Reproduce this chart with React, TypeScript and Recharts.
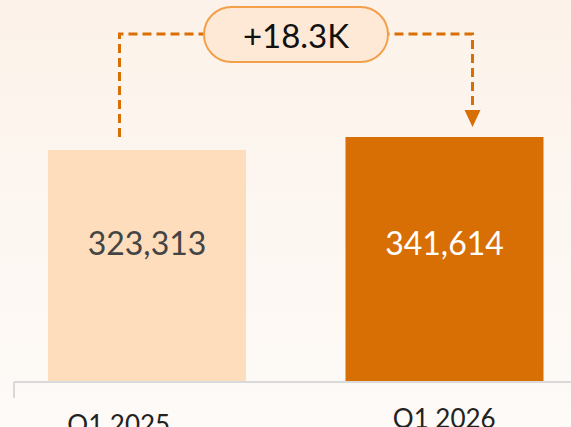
import { BarChart, Bar, XAxis, YAxis, Cell, LabelList, Rectangle } from 'recharts';

// quarters and subscriber totals
const quarters = ['Q1 2025', 'Q1 2026'];
const subscribers = [323313, 341614];
const barColors = ['#FDDDBB', '#D76F05'];
const valueColors = ['#444444', '#FFFFFF'];
const changeLabel = '+18.3K';

const data = quarters.map((quarter, i) => ({ quarter, value: subscribers[i] }));

const CHART_W = 571;
const CHART_H = 427;
const MARGIN = { top: 95, right: 0, left: 14, bottom: 0 };
const AXIS_H = 45;
const FONT = 'Lato, "Open Sans", sans-serif';
const ORANGE = '#D76F05';

// bar boxes are filled in by the shape callback, then read by the bridge label
const barBoxes: Record<number, { x: number; y: number; width: number; height: number }> = {};

const BarShape = (props: any) => {
  barBoxes[props.index] = { x: props.x, y: props.y, width: props.width, height: props.height };
  return <Rectangle {...props} />;
};

const ValueLabel = (props: any) => {
  const box = barBoxes[props.index];
  if (!box) return null;
  return (
    <text
      x={box.x + box.width / 2}
      y={box.y + box.height - 140}
      textAnchor="middle"
      dominantBaseline="central"
      fontFamily={FONT}
      fontSize={32}
      fill={valueColors[props.index]}
    >
      {subscribers[props.index].toLocaleString('en-US')}
    </text>
  );
};

const Bridge = (props: any) => {
  const a = barBoxes[0];
  const b = barBoxes[1];
  if (props.index !== 1 || !a || !b) return null;
  const level = 34;
  const ax = a.x + a.width / 2 - 27.5;
  const bx = b.x + b.width / 2 + 28;
  const tipY = b.y - 10;
  const midX = (ax + bx) / 2;
  const plotBottom = CHART_H - AXIS_H;
  return (
    <g>
      <path
        d={`M${ax},${a.y - 13} V${level} H${bx} V${tipY - 15}`}
        fill="none"
        stroke={ORANGE}
        strokeWidth={3}
        strokeDasharray="9 5"
      />
      <path d={`M${bx - 8},${tipY - 17} L${bx + 8},${tipY - 17} L${bx},${tipY} Z`} fill={ORANGE} />
      <rect x={midX - 92} y={level - 27} width={184} height={55} rx={27.5} fill="#FEE9D7" stroke="#F4A04A" strokeWidth={2} />
      <text x={midX} y={level + 1} textAnchor="middle" dominantBaseline="central" fontFamily={FONT} fontSize={33} fill="#111111">
        {changeLabel}
      </text>
      <line x1={MARGIN.left} x2={MARGIN.left} y1={plotBottom} y2={plotBottom + 16} stroke="#D9D9D9" strokeWidth={2} />
    </g>
  );
};

const QuarterTick = ({ x, y, payload, index }: any) => {
  const dx = index === 0 ? -28 : 0;
  const dy = index === 0 ? 44 : 38;
  return (
    <text x={x + dx} y={y + dy} textAnchor="middle" fontFamily={FONT} fontSize={26} fill="#222222">
      {payload.value}
    </text>
  );
};

export default function App() {
  return (
    <div
      style={{
        position: 'absolute',
        left: 0,
        top: 0,
        width: CHART_W,
        height: CHART_H,
        overflow: 'hidden',
        background: 'linear-gradient(180deg, #FCF2E9 0%, #FDF7F2 55%, #FDFAF7 100%)',
      }}
    >
      <BarChart width={CHART_W} height={CHART_H} data={data} margin={MARGIN}>
        <XAxis
          dataKey="quarter"
          height={AXIS_H}
          interval={0}
          padding={{ left: -16, right: -22 }}
          axisLine={{ stroke: '#D9D9D9', strokeWidth: 2 }}
          tickLine={false}
          tick={<QuarterTick />}
        />
        <YAxis hide domain={[0, 400000]} />
        <Bar dataKey="value" barSize={198} shape={<BarShape />} isAnimationActive={false}>
          {data.map((entry, i) => (
            <Cell key={entry.quarter} fill={barColors[i]} />
          ))}
          <LabelList dataKey="value" content={<ValueLabel />} />
          <LabelList dataKey="value" content={<Bridge />} />
        </Bar>
      </BarChart>
    </div>
  );
}
